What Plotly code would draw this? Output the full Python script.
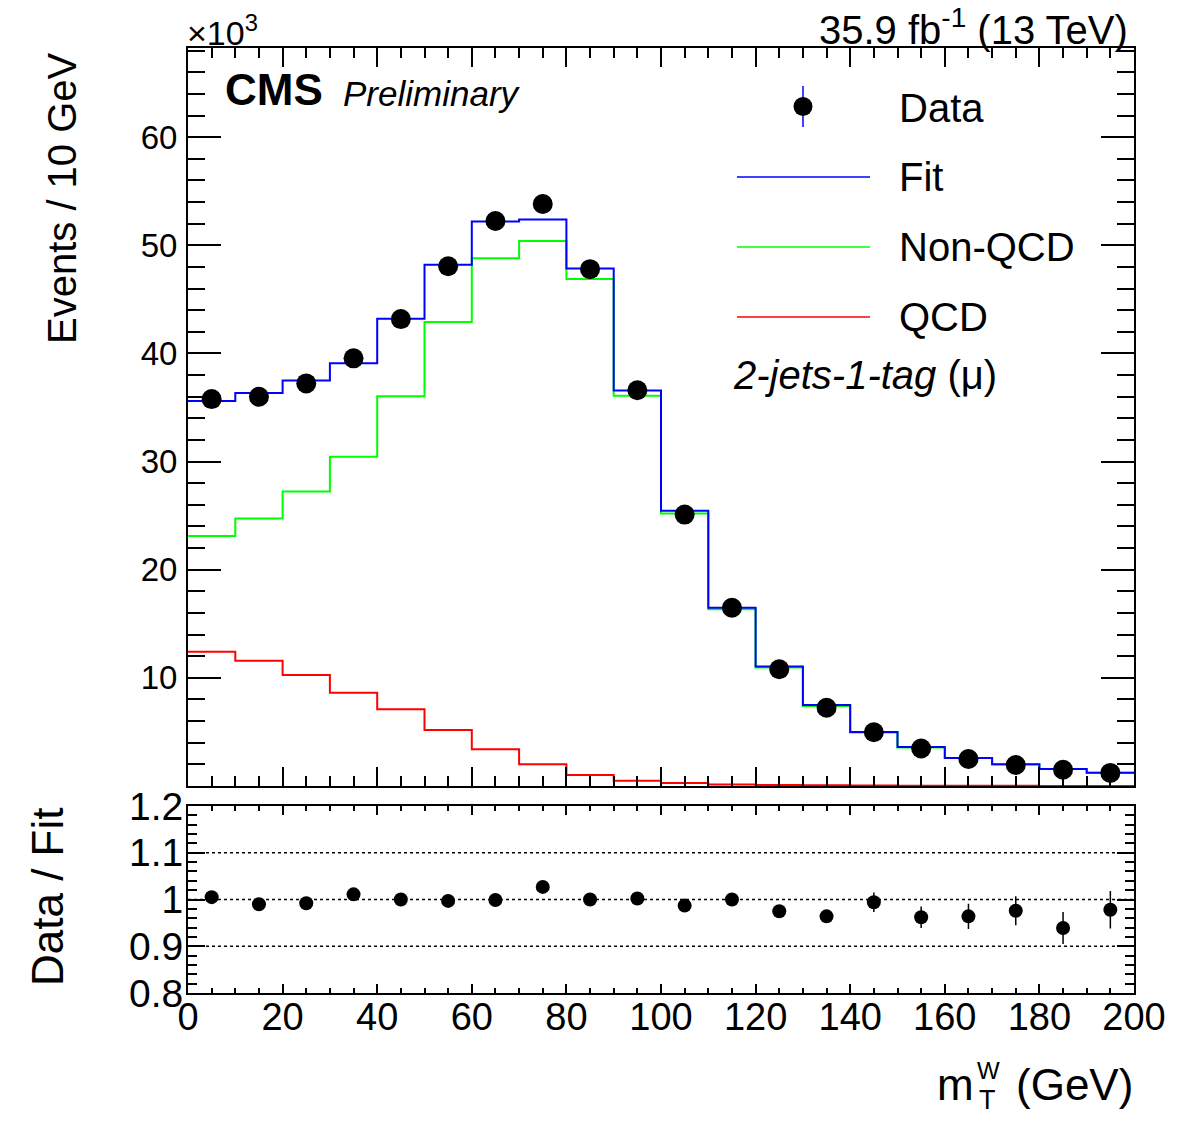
import plotly.graph_objects as go

# ---------------- data (values in units of 10^3 events) ----------------
bin_edges = [0, 10, 20, 30, 40, 50, 60, 70, 80, 90, 100,
             110, 120, 130, 140, 150, 160, 170, 180, 190, 200]
bin_centers = [5, 15, 25, 35, 45, 55, 65, 75, 85, 95,
               105, 115, 125, 135, 145, 155, 165, 175, 185, 195]

data_vals = [35.78, 36.0, 37.23, 39.55, 43.18, 48.07, 52.25, 53.82, 47.8, 36.6,
             25.1, 16.48, 10.8, 7.24, 4.97, 3.47, 2.5, 1.94, 1.5, 1.21]
fit_vals = [35.6, 36.35, 37.5, 39.1, 43.2, 48.2, 52.2, 52.4, 47.85, 36.57,
            25.45, 16.48, 11.05, 7.48, 5.0, 3.6, 2.6, 2.0, 1.58, 1.23]
nonqcd_vals = [23.13, 24.74, 27.23, 30.44, 36.04, 42.9, 48.8, 50.4, 46.88, 36.1,
               25.2, 16.35, 10.95, 7.4, 4.95, 3.56, 2.58, 1.98, 1.57, 1.22]
qcd_vals = [12.42, 11.58, 10.26, 8.63, 7.09, 5.18, 3.39, 2.0, 1.02, 0.49,
            0.28, 0.15, 0.09, 0.06, 0.04, 0.03, 0.02, 0.015, 0.01, 0.01]

ratio_vals = [1.005, 0.990, 0.992, 1.011, 1.0, 0.997, 0.999, 1.027, 1.0, 1.002,
              0.987, 1.0, 0.975, 0.964, 0.994, 0.962, 0.964, 0.976, 0.939, 0.978]
ratio_errs = [0.005, 0.005, 0.005, 0.005, 0.005, 0.005, 0.004, 0.004, 0.005, 0.005,
              0.006, 0.008, 0.010, 0.013, 0.021, 0.023, 0.027, 0.031, 0.034, 0.040]

main_yticks = [10, 20, 30, 40, 50, 60]
ratio_yticks = [0.8, 0.9, 1.0, 1.1, 1.2]
ratio_yticktext = ["0.8", "0.9", "1", "1.1", "1.2"]
ratio_reflines = [0.9, 1.0, 1.1]
x_ticks = [0, 20, 40, 60, 80, 100, 120, 140, 160, 180, 200]

# ---------------- geometry ----------------
FIG_W, FIG_H = 1182, 1130
L, R, T, B = 188, 48, 48, 137
PW = FIG_W - L - R
PH = FIG_H - T - B
FONT = "Liberation Sans, Arial, Helvetica, sans-serif"


def px(x):
    return (x - L) / PW


def py(y):
    return (FIG_H - B - y) / PH


main_dom = [py(786), 1.0]
ratio_dom = [0.0, py(806)]


def step(vals):
    return vals + [vals[-1]]


fig = go.Figure()

fig.add_trace(go.Scatter(x=bin_edges, y=step(qcd_vals), mode="lines",
                         line=dict(color="#ff0000", width=2, shape="hv"),
                         xaxis="x", yaxis="y", showlegend=False, name="QCD"))
fig.add_trace(go.Scatter(x=bin_edges, y=step(nonqcd_vals), mode="lines",
                         line=dict(color="#00ff00", width=2, shape="hv"),
                         xaxis="x", yaxis="y", showlegend=False, name="Non-QCD"))
fig.add_trace(go.Scatter(x=bin_edges, y=step(fit_vals), mode="lines",
                         line=dict(color="#0000ff", width=2, shape="hv"),
                         xaxis="x", yaxis="y", showlegend=False, name="Fit"))
fig.add_trace(go.Scatter(x=bin_centers, y=data_vals, mode="markers",
                         marker=dict(color="black", size=20),
                         xaxis="x", yaxis="y", showlegend=False, name="Data"))

fig.add_trace(go.Scatter(x=bin_centers, y=ratio_vals, mode="markers",
                         marker=dict(color="black", size=14),
                         error_y=dict(type="data", array=ratio_errs, color="black",
                                      thickness=1.5, width=0),
                         xaxis="x2", yaxis="y2", showlegend=False, name="Data / Fit"))

tick_common = dict(showline=True, linecolor="black", linewidth=2, mirror="ticks",
                   ticks="inside", tickcolor="black", tickwidth=1.5,
                   showgrid=False, zeroline=False)

fig.update_layout(
    width=FIG_W, height=FIG_H,
    margin=dict(l=L, r=R, t=T, b=B),
    paper_bgcolor="white", plot_bgcolor="white",
    font=dict(family=FONT, color="black"),
    showlegend=False,
    xaxis=dict(domain=[0, 1], anchor="y", range=[0, 200],
               tickmode="array", tickvals=x_ticks, ticklen=19,
               showticklabels=False,
               minor=dict(tickmode="linear", tick0=0, dtick=5, ticks="inside",
                          ticklen=10, tickcolor="black", tickwidth=1.5),
               **tick_common),
    yaxis=dict(domain=main_dom, anchor="x", range=[0, 68.25],
               tickmode="array", tickvals=main_yticks, ticklen=33,
               tickfont=dict(size=33, family=FONT),
               ticklabelstandoff=2,
               minor=dict(tickmode="linear", tick0=0, dtick=2, ticks="inside",
                          ticklen=17, tickcolor="black", tickwidth=1.5),
               **tick_common),
    xaxis2=dict(domain=[0, 1], anchor="y2", range=[0, 200],
                tickmode="array", tickvals=x_ticks, ticklen=9,
                tickfont=dict(size=38, family=FONT),
                ticklabelstandoff=-11,
                minor=dict(tickmode="linear", tick0=0, dtick=5, ticks="inside",
                           ticklen=5, tickcolor="black", tickwidth=1.5),
                **tick_common),
    yaxis2=dict(domain=ratio_dom, anchor="x2", range=[0.8, 1.2],
                tickmode="array", tickvals=ratio_yticks, ticktext=ratio_yticktext,
                ticklen=17, tickfont=dict(size=39, family=FONT),
                ticklabelstandoff=-5,
                minor=dict(tickmode="linear", tick0=0.8, dtick=0.02, ticks="inside",
                           ticklen=9, tickcolor="black", tickwidth=1.5),
                **tick_common),
)

shapes = []
for v in ratio_reflines:
    shapes.append(dict(type="line", xref="x2", yref="y2", x0=0, x1=200, y0=v, y1=v,
                       line=dict(color="black", width=1.5, dash="dot"), layer="below"))

# manual legend (ROOT style)
legend_lines = [(177, "#0000ff"), (247, "#00ff00"), (317, "#ff0000")]
for yy, col in legend_lines:
    shapes.append(dict(type="line", xref="paper", yref="paper",
                       x0=px(737), x1=px(870), y0=py(yy), y1=py(yy),
                       line=dict(color=col, width=1.5)))
shapes.append(dict(type="line", xref="paper", yref="paper",
                   x0=px(803), x1=px(803), y0=py(86), y1=py(127),
                   line=dict(color="#0000ff", width=1.5)))
shapes.append(dict(type="circle", xref="paper", yref="paper",
                   xsizemode="pixel", ysizemode="pixel",
                   xanchor=px(803), yanchor=py(106.5),
                   x0=-9.5, x1=9.5, y0=-9.5, y1=9.5,
                   fillcolor="black", line=dict(color="black", width=0)))
fig.update_layout(shapes=shapes)

ann = []


def add_text(text, x, y, size, xanchor="left", yanchor="middle", angle=0, **kw):
    ann.append(dict(text=text, x=px(x), y=py(y), xref="paper", yref="paper",
                    xanchor=xanchor, yanchor=yanchor, showarrow=False,
                    textangle=angle, borderpad=0,
                    font=dict(size=size, family=FONT, color="black"), **kw))


add_text("<b>CMS</b>", 224, 89, 44)
add_text("<i>Preliminary</i>", 342, 93, 35)
add_text("35.9 fb<sup>-1</sup> (13 TeV)", 1129, 27, 40, xanchor="right")
add_text("×10<sup>3</sup>", 186, 30, 34)

add_text("Data", 898, 108, 40)
add_text("Fit", 898, 177, 40)
add_text("Non-QCD", 898, 247, 40)
add_text("QCD", 898, 317, 40)
add_text("<i>2-jets-1-tag</i> (μ)", 732, 375, 40)

# axis titles
add_text("Events / 10 GeV", 62, 51, 40, xanchor="center", yanchor="top", angle=-90)
add_text("Data / Fit", 47, 897, 44, xanchor="center", yanchor="middle", angle=-90)
add_text("(GeV)", 1134, 1084, 44, xanchor="right")
add_text("m", 975, 1084, 44, xanchor="right")
add_text("W", 976, 1070, 24)
add_text("T", 978, 1100, 27)

fig.update_layout(annotations=ann)

fig.write_html("out.html")
